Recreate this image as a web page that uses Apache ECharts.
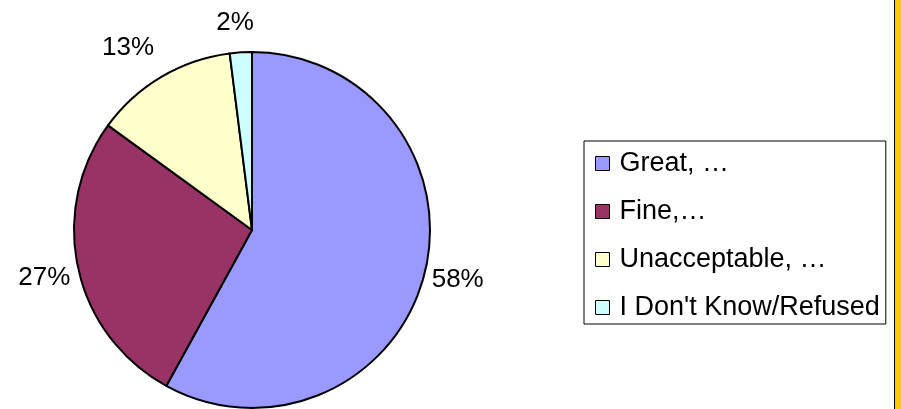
<!DOCTYPE html>
<html>
<head>
<meta charset="utf-8">
<script src="https://cdn.jsdelivr.net/npm/echarts@6/dist/echarts.min.js"></script>
<style>
  html, body { margin: 0; padding: 0; background: #fff; }
  #myChart { width: 901px; height: 409px; }
</style>
</head>
<body>
<div id="myChart"></div>
<script>
  // slices, clockwise from 12 o'clock
  var categories = ['Great, …', 'Fine,…', 'Unacceptable, …', "I Don't Know/Refused"]
  var values = [58, 27, 13, 2]
  var colors = ['#9999FF', '#993366', '#FFFFCC', '#CCFFFF']

  // label line lengths per slice, so labels sit where Excel put them
  var labelLen = [23, 42, 34, 30]
  var labelLen2 = [-15, -33, -10, -15]

  var pieData = []
  for (var i = 0; i < values.length; i++) {
    pieData.push({
      name: categories[i],
      value: values[i],
      itemStyle: { color: colors[i] },
      labelLine: { show: false, length: labelLen[i], length2: labelLen2[i] }
    })
  }

  var myChart = echarts.init(document.getElementById('myChart'))
  myChart.setOption({
    animation: false,
    legend: {
      orient: 'vertical',
      left: 584,
      top: 141,
      padding: [9, 6, 3, 11],
      itemGap: 21,
      itemWidth: 14,
      itemHeight: 14,
      icon: 'rect',
      borderColor: '#000',
      borderWidth: 1,
      itemStyle: { borderColor: '#000', borderWidth: 1 },
      textStyle: {
        fontFamily: 'Arial, "Liberation Sans"',
        fontSize: 27,
        lineHeight: 26,
        color: '#000',
        padding: [0, 0, 0, 5]
      },
      data: categories
    },
    graphic: [
      {
        type: 'rect',
        shape: { x: 895, y: 0, width: 6, height: 409 },
        style: { fill: '#FFCC00' },
        silent: true
      },
      {
        type: 'line',
        shape: { x1: 894.5, y1: 0, x2: 894.5, y2: 409 },
        style: { stroke: '#000', lineWidth: 1 },
        silent: true
      }
    ],
    series: [
      {
        type: 'pie',
        center: [252, 230],
        radius: 178,
        startAngle: 90,
        clockwise: true,
        avoidLabelOverlap: false,
        itemStyle: { borderColor: '#000', borderWidth: 2 },
        label: {
          position: 'outside',
          formatter: '{c}%',
          distanceToLabelLine: 0,
          fontFamily: 'Arial, "Liberation Sans"',
          fontSize: 26,
          color: '#000'
        },
        emphasis: { disabled: true },
        data: pieData
      }
    ]
  })
</script>
</body>
</html>
